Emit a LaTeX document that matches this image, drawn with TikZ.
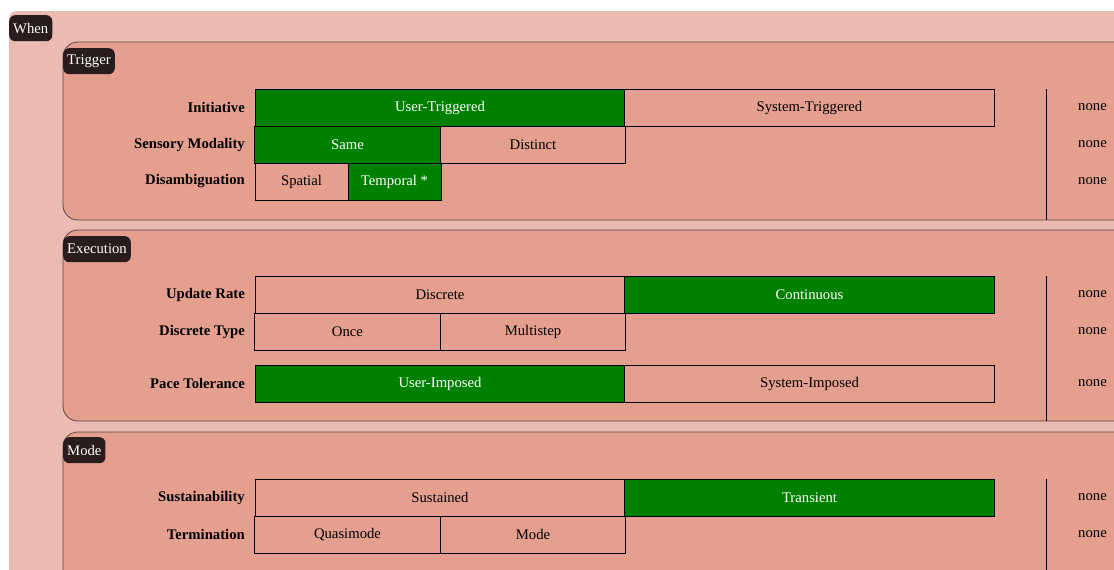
\documentclass[tikz,border=0pt]{standalone}
\usepackage{fontspec}
\setmainfont{Liberation Serif}

\definecolor{whenbg}{HTML}{EBBAB0}
\definecolor{panelbg}{HTML}{E49F8F}
\definecolor{tagbg}{HTML}{2A1C1C}
\definecolor{ongreen}{HTML}{008000}
\definecolor{edgegray}{HTML}{5A4646}

\tikzset{
    panel/.style={fill=panelbg, draw=edgegray, line width=0.8pt, rounded corners=15pt},
    tag/.style={fill=tagbg, text=white, rounded corners=6pt, inner xsep=4pt, inner ysep=0pt,
        minimum height=26pt, anchor=north west, font=\fontsize{14.7}{17}\selectfont},
    cell/.style={draw=black, line width=0.9pt, fill=panelbg, minimum height=37pt,
        inner sep=0pt, font=\fontsize{14.7}{17}\selectfont},
    oncell/.style={cell, fill=ongreen, text=white},
    wide/.style={minimum width=370pt},
    half/.style={minimum width=185.5pt},
    narrow/.style={minimum width=93pt},
    rowlabel/.style={anchor=east, inner sep=0pt, font=\bfseries\fontsize{14.7}{17}\selectfont},
    nonelabel/.style={anchor=east, inner sep=0pt, font=\fontsize{14.7}{17}\selectfont},
    divider/.style={draw=black, line width=0.9pt}
}

\begin{document}
\begin{tikzpicture}[x=1pt, y=-1pt]
        \useasboundingbox[fill=white] (0, 0) rectangle (1114, 570);
        \clip (0, 0) rectangle (1114, 570);

        % when
        \fill[whenbg, rounded corners=8pt] (9, 11) rectangle (1150, 620);
        \node (when) at (9, 15) [tag] {When};

        % trigger
        \draw[panel] (63, 42) rectangle (1150, 220);
        \node (trigger) at (63, 48) [tag] {Trigger};

        \node (t-1) at (245, 107.5) [rowlabel] {Initiative};
        \node (t-2) at (245, 144.5) [rowlabel] {Sensory Modality};
        \node (t-3) at (245, 181.5) [rowlabel] {Disambiguation};

        \node (t-1-1) at (440, 107.5) [oncell, wide] {User-Triggered};
        \node (t-1-2) at (809.5, 107.5) [cell, wide] {System-Triggered};
        \node (t-2-1) at (347.5, 144.5) [oncell, half] {Same};
        \node (t-2-2) at (533, 144.5) [cell, half] {Distinct};
        \node (t-3-1) at (301.5, 181.5) [cell, narrow] {Spatial};
        \node (t-3-2) at (394.5, 181.5) [oncell, narrow] {Temporal *};

        \draw[divider] (1046, 89) -- (1046, 220);
        \node (t-1-n) at (1107, 107.5) [nonelabel] {none};
        \node (t-2-n) at (1107, 144.5) [nonelabel] {none};
        \node (t-3-n) at (1107, 181.5) [nonelabel] {none};

        % execution
        \draw[panel] (63, 230) rectangle (1150, 421);
        \node (execution) at (63, 236) [tag] {Execution};

        \node (e-1) at (245, 294.5) [rowlabel] {Update Rate};
        \node (e-2) at (245, 331.5) [rowlabel] {Discrete Type};
        \node (e-3) at (245, 383.5) [rowlabel] {Pace Tolerance};

        \node (e-1-1) at (440, 294.5) [cell, wide] {Discrete};
        \node (e-1-2) at (809.5, 294.5) [oncell, wide] {Continuous};
        \node (e-2-1) at (347.5, 331.5) [cell, half] {Once};
        \node (e-2-2) at (533, 331.5) [cell, half] {Multistep};
        \node (e-3-1) at (440, 383.5) [oncell, wide] {User-Imposed};
        \node (e-3-2) at (809.5, 383.5) [cell, wide] {System-Imposed};

        \draw[divider] (1046, 276) -- (1046, 421);
        \node (e-1-n) at (1107, 294.5) [nonelabel] {none};
        \node (e-2-n) at (1107, 331.5) [nonelabel] {none};
        \node (e-3-n) at (1107, 383.5) [nonelabel] {none};

        % mode
        \draw[panel] (63, 432) rectangle (1150, 620);
        \node (mode) at (63, 437) [tag] {Mode};

        \node (m-1) at (245, 497.5) [rowlabel] {Sustainability};
        \node (m-2) at (245, 534.5) [rowlabel] {Termination};

        \node (m-1-1) at (440, 497.5) [cell, wide] {Sustained};
        \node (m-1-2) at (809.5, 497.5) [oncell, wide] {Transient};
        \node (m-2-1) at (347.5, 534.5) [cell, half] {Quasimode};
        \node (m-2-2) at (533, 534.5) [cell, half] {Mode};

        \draw[divider] (1046, 479) -- (1046, 570);
        \node (m-1-n) at (1107, 497.5) [nonelabel] {none};
        \node (m-2-n) at (1107, 534.5) [nonelabel] {none};

    \end{tikzpicture}
\end{document}
